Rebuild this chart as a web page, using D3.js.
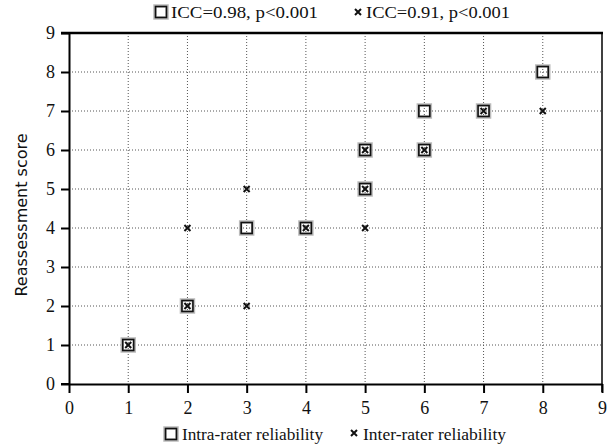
<!DOCTYPE html>
<html>
<head>
<meta charset="utf-8">
<script src="https://cdn.jsdelivr.net/npm/d3@7"></script>
<style>
  body { margin: 0; background: #fff; }
  text { font-family: "Liberation Serif", "DejaVu Serif", serif; fill: #111; }
</style>
</head>
<body>
<svg id="chart" width="608" height="447"></svg>
<script>
// intra-rater reliability (squares)
var intraX = [1, 2, 3, 4, 5, 5, 6, 6, 7, 8];
var intraY = [1, 2, 4, 4, 5, 6, 6, 7, 7, 8];
// inter-rater reliability (crosses)
var interX = [1, 2, 2, 3, 3, 4, 5, 5, 5, 6, 7, 8];
var interY = [1, 2, 4, 5, 2, 4, 4, 5, 6, 6, 7, 7];
var ticks = [0, 1, 2, 3, 4, 5, 6, 7, 8, 9];
var legendTop = ["ICC=0.98, p<0.001", "ICC=0.91, p<0.001"];
var legendBottom = ["Intra-rater reliability", "Inter-rater reliability"];

var svg = d3.select("#chart");
var pLeft = 69, pRight = 602, pTop = 33, pBottom = 384;

var x = d3.scaleLinear().domain([0, 9]).range([pLeft, pRight]);
var y = d3.scaleLinear().domain([0, 9]).range([pBottom, pTop]);

// grid
var grid = svg.append("g");
grid.selectAll(".gx").data(ticks.slice(1, 9)).enter().append("line")
  .attr("x1", function(d) { return x(d); }).attr("x2", function(d) { return x(d); })
  .attr("y1", pTop).attr("y2", pBottom)
  .attr("stroke", "#555").attr("stroke-width", 1).attr("stroke-dasharray", "1,2");
grid.selectAll(".gy").data(ticks.slice(1, 9)).enter().append("line")
  .attr("y1", function(d) { return y(d); }).attr("y2", function(d) { return y(d); })
  .attr("x1", pLeft).attr("x2", pRight)
  .attr("stroke", "#555").attr("stroke-width", 1).attr("stroke-dasharray", "1,2");

// frame
svg.append("line").attr("x1", pLeft - 8).attr("x2", pRight + 1).attr("y1", pTop).attr("y2", pTop)
  .attr("stroke", "#000").attr("stroke-width", 2.5);
svg.append("line").attr("x1", pRight).attr("x2", pRight).attr("y1", pTop).attr("y2", pBottom + 8)
  .attr("stroke", "#000").attr("stroke-width", 1.5);

// axes
var xAxis = svg.append("g").attr("transform", "translate(0," + pBottom + ")")
  .call(d3.axisBottom(x).tickValues(ticks).tickSize(9).tickPadding(8).tickSizeOuter(0));
var yAxis = svg.append("g").attr("transform", "translate(" + pLeft + ",0)")
  .call(d3.axisLeft(y).tickValues(ticks).tickSize(8).tickPadding(6).tickSizeOuter(0));
[xAxis, yAxis].forEach(function(a) {
  a.select(".domain").attr("stroke", "#000").attr("stroke-width", 2);
  a.selectAll(".tick line").attr("stroke", "#000").attr("stroke-width", 2);
  a.selectAll(".tick text").style("font-size", "18px").attr("fill", "#111");
});
svg.append("line").attr("x1", pLeft - 8).attr("x2", pLeft).attr("y1", pBottom).attr("y2", pBottom)
  .attr("stroke", "#000").attr("stroke-width", 2);

svg.append("text")
  .attr("transform", "translate(27,215) rotate(-90)")
  .attr("text-anchor", "middle")
  .style("font-family", "'DejaVu Sans', sans-serif")
  .style("font-size", "16px")
  .text("Reassessment score");

function square(g, cx, cy) {
  g.append("rect").attr("x", cx - 6).attr("y", cy - 6).attr("width", 12).attr("height", 12)
    .attr("fill", "none").attr("stroke", "#bbb").attr("stroke-width", 3.5);
  g.append("rect").attr("x", cx - 5.5).attr("y", cy - 5.5).attr("width", 11).attr("height", 11)
    .attr("fill", "none").attr("stroke", "#111").attr("stroke-width", 1.6);
}
function cross(g, cx, cy) {
  g.append("path").attr("d", "M" + (cx - 3) + "," + (cy - 3) + "L" + (cx + 3) + "," + (cy + 3) +
    "M" + (cx + 3) + "," + (cy - 3) + "L" + (cx - 3) + "," + (cy + 3))
    .attr("stroke", "#111").attr("stroke-width", 2);
}

var pts = svg.append("g");
intraX.forEach(function(d, i) { square(pts, x(d), y(intraY[i])); });
interX.forEach(function(d, i) { cross(pts, x(d), y(interY[i])); });

// legends
var lt = svg.append("g");
square(lt, 161, 12);
lt.append("text").attr("x", 171).attr("y", 18).style("font-size", "16px")
  .attr("textLength", 147).attr("lengthAdjust", "spacingAndGlyphs").text(legendTop[0]);
cross(lt, 358, 12);
lt.append("text").attr("x", 366).attr("y", 18).style("font-size", "16px")
  .attr("textLength", 144).attr("lengthAdjust", "spacingAndGlyphs").text(legendTop[1]);

var lb = svg.append("g");
square(lb, 171, 434);
lb.append("text").attr("x", 182).attr("y", 440).style("font-size", "16px")
  .attr("textLength", 141).attr("lengthAdjust", "spacingAndGlyphs").text(legendBottom[0]);
cross(lb, 354, 433);
lb.append("text").attr("x", 363).attr("y", 440).style("font-size", "16px")
  .attr("textLength", 143).attr("lengthAdjust", "spacingAndGlyphs").text(legendBottom[1]);
</script>
</body>
</html>
